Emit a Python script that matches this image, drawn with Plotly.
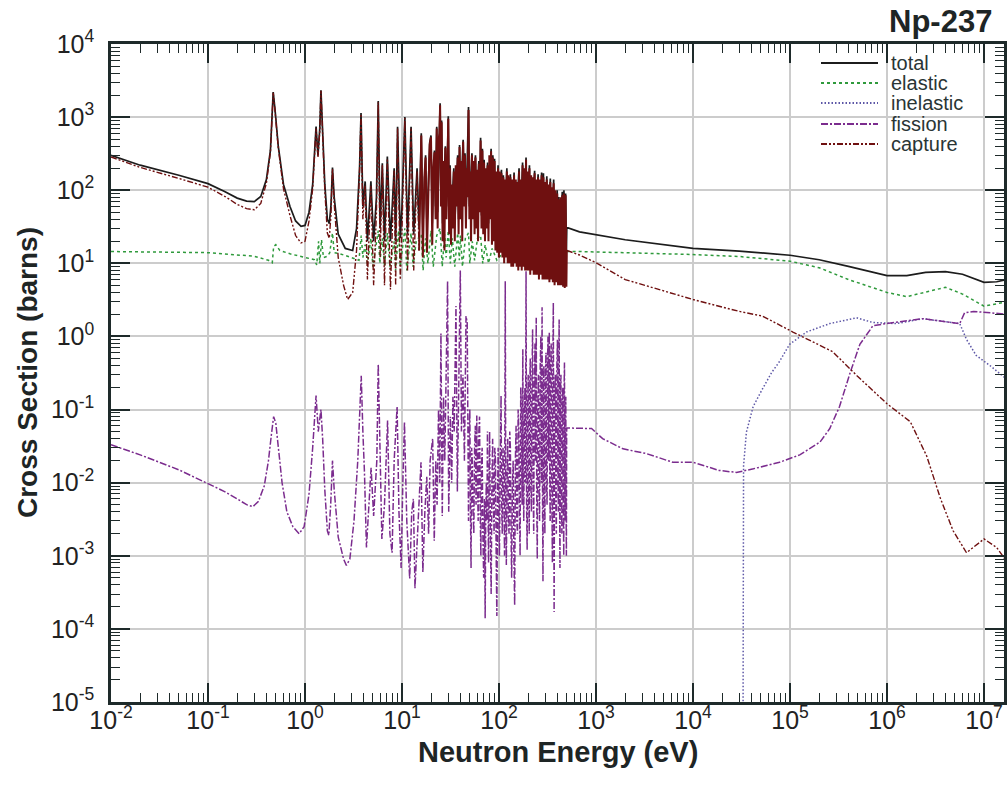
import plotly.graph_objects as go

# ---------------- data (energy eV, cross section barns) ----------------
total_low = [
    (0.01, 300), (0.02, 220), (0.05, 160), (0.1, 123), (0.15, 95), (0.2, 78), (0.25, 71),
    (0.3, 70), (0.35, 82), (0.4, 140), (0.44, 350), (0.465, 1200), (0.47, 2200), (0.49, 1300),
    (0.53, 400), (0.6, 120), (0.7, 60), (0.8, 38), (0.91, 32), (1.0, 33), (1.1, 50), (1.2, 120),
    (1.3, 740), (1.36, 300), (1.42, 700), (1.46, 2330), (1.52, 700), (1.6, 120), (1.7, 40),
    (1.78, 35), (1.85, 60), (1.92, 205), (2.0, 80), (2.2, 25), (2.6, 16), (3.1, 15), (3.4, 30),
    (3.65, 200), (3.78, 1140), (3.95, 60), (4.17, 132), (4.4, 20), (4.78, 132), (5.1, 20),
    (5.45, 80), (5.69, 1660), (5.95, 30), (6.27, 234), (6.6, 20), (7.06, 290), (7.6, 20),
    (8.3, 200), (8.6, 20), (9.0, 740), (9.6, 22), (10.0, 60), (10.7, 1000), (11.4, 25),
    (12.4, 740), (13.2, 25), (14.3, 200),
]
total_res = [
    (15.0, 30), (15.8, 600), (16.4, 30), (17.5, 300), (18.1, 30), (19.3, 450), (19.9, 560),
    (20.5, 35), (21.6, 350), (22.2, 60), (22.8, 740), (23.3, 50), (24.3, 650), (24.7, 1550),
    (25.2, 80), (25.6, 900), (26.2, 35), (28.0, 400), (28.7, 60), (30.0, 1030), (30.6, 45),
    (31.3, 220), (32.0, 35), (34.2, 200), (35.0, 35), (37.5, 300), (38.3, 40), (39.2, 415),
    (40.0, 60), (42.7, 490), (43.6, 80), (44.6, 320), (45.6, 45), (48.5, 1370), (49.5, 60),
    (52.6, 320), (53.7, 60), (57.2, 300), (58.4, 45), (62.0, 250), (63.3, 70), (64.6, 520),
    (66.0, 45), (67.4, 370), (68.8, 40), (70.2, 260), (71.7, 35), (76.3, 240), (77.9, 35),
    (82.9, 370), (84.6, 30), (86.4, 300), (88.2, 30), (90.0, 270), (91.9, 28), (97.8, 220),
    (99.8, 25), (106, 190), (108.5, 25), (110.8, 160), (113, 22), (120.5, 200), (123, 22),
    (131, 165), (134, 20), (143, 175), (146, 20), (161, 200), (164.5, 20), (175, 240),
    (178.5, 20), (190, 280), (194, 20), (206, 220), (210, 20), (233, 185), (238, 18),
    (253, 165), (258, 18), (275, 175), (281, 18), (287, 170), (293, 17), (311, 155), (317, 17),
    (338, 145), (345, 17), (366, 140), (374, 16), (398, 100), (406, 16), (414, 81), (422, 16),
    (449, 95), (458, 16), (467, 100), (476, 15), (486, 90), (495, 15), (500, 31),
]
total_high = [
    (500, 31), (676, 27), (1e3, 24.5), (2e3, 21), (1e4, 16), (3e4, 14.7), (1e5, 12.9),
    (2e5, 11.2), (4e5, 9.1), (1e6, 6.8), (1.6e6, 6.8), (2.5e6, 7.5), (4e6, 7.7), (6e6, 7.1),
    (1e7, 5.5), (1.35e7, 5.6), (1.8e7, 6.1),
]

elastic_pts = [
    (0.01, 14.5), (0.1, 14), (0.3, 12.5), (0.42, 11), (0.46, 10.2), (0.475, 17), (0.5, 18),
    (0.55, 15), (0.7, 13.5), (0.9, 12.4), (1.1, 11.5), (1.25, 11.2), (1.32, 9.5), (1.38, 20),
    (1.42, 10), (1.48, 21), (1.55, 12), (1.7, 12.5), (1.8, 14), (1.92, 26), (2.0, 14),
    (2.3, 13.5), (3.0, 12), (3.6, 11), (3.8, 24), (3.95, 12), (4.17, 18), (4.4, 10),
    (4.78, 22), (5.0, 9), (5.69, 28), (5.9, 10), (6.27, 22), (6.6, 9), (7.06, 26), (7.5, 9),
    (8.3, 20), (8.6, 8), (9.2, 28), (9.6, 9), (10.7, 30), (11.2, 8), (12.4, 26), (13, 9),
    (14, 20), (15.8, 25), (16.5, 8), (17.5, 22), (18.5, 10), (19.9, 28), (21, 9), (22.8, 24),
    (24.7, 30), (26, 9), (27.5, 25), (28.5, 12), (30, 28), (31.5, 10), (33, 22), (35, 9),
    (37.5, 26), (39, 11), (40, 24), (42, 9), (45, 22), (48.5, 26), (50, 10), (53, 20),
    (56, 11), (60, 22), (64.6, 24), (68, 10), (72, 18), (78, 10), (85, 16), (95, 11),
    (110, 14), (150, 13), (250, 12), (400, 12), (500, 14.5), (676, 14.5), (1e4, 13.2),
    (3e4, 12.4), (1e5, 10.7), (2e5, 8.7), (4e5, 6.0), (1e6, 4.0), (1.6e6, 3.5), (2.5e6, 4.0),
    (4e6, 4.7), (6e6, 3.8), (1e7, 2.6), (1.8e7, 3.0),
]

inelastic_pts = [
    (3.26e4, 1e-7), (3.28e4, 0.005), (3.32e4, 0.017), (3.55e4, 0.049), (4.17e4, 0.11),
    (5.07e4, 0.18), (6.46e4, 0.32), (7.76e4, 0.45), (9.9e4, 0.78), (1.48e5, 1.15),
    (2.57e5, 1.5), (4.84e5, 1.8), (7.16e5, 1.55), (1.26e6, 1.5), (2.34e6, 1.75),
    (5.62e6, 1.5), (6.6e6, 0.91), (8.3e6, 0.55), (1.15e7, 0.40), (1.78e7, 0.25),
]

fission_low = [
    (0.01, 0.033), (0.02, 0.024), (0.05, 0.015), (0.1, 0.0098), (0.15, 0.0075), (0.2, 0.006),
    (0.25, 0.0050), (0.29, 0.0047), (0.33, 0.0055), (0.38, 0.009), (0.42, 0.02), (0.45, 0.045),
    (0.465, 0.075), (0.475, 0.08), (0.5, 0.065), (0.53, 0.03), (0.58, 0.01), (0.65, 0.004),
    (0.75, 0.0025), (0.87, 0.002), (0.98, 0.0025), (1.1, 0.007), (1.2, 0.03), (1.3, 0.156),
    (1.37, 0.05), (1.43, 0.08), (1.46, 0.10), (1.52, 0.04), (1.6, 0.008), (1.7, 0.0022),
    (1.76, 0.0019), (1.84, 0.005), (1.92, 0.02), (2.0, 0.008), (2.2, 0.0018), (2.5, 0.0009),
    (2.67, 0.00074), (2.9, 0.0009), (3.2, 0.003), (3.5, 0.02), (3.7, 0.12), (3.8, 0.29),
    (3.95, 0.05), (4.1, 0.014), (4.3, 0.0013), (4.5, 0.004), (4.8, 0.016), (5.1, 0.0035),
    (5.5, 0.02), (5.69, 0.42), (5.9, 0.05), (6.2, 0.0017), (6.6, 0.005), (7.1, 0.071),
    (7.5, 0.002), (7.9, 0.0011), (8.3, 0.02), (8.9, 0.11), (9.3, 0.004), (9.8, 0.00068),
    (10.2, 0.01), (10.6, 0.068), (11.2, 0.003), (12.0, 0.00049), (12.6, 0.004),
]
fission_res = [
    (13.1, 0.006), (13.6, 0.00036), (14.5, 0.003), (15.2, 0.008), (15.7, 0.019), (16.4, 0.0006),
    (17.2, 0.004), (18, 0.012), (18.8, 0.002), (19.5, 0.02), (20.7, 0.04), (21.5, 0.0016),
    (22.3, 0.02), (23, 0.005), (23.8, 0.1), (24.5, 0.01), (25.2, 1.1), (26, 0.0035),
    (26.8, 0.15), (27.6, 0.02), (28.5, 0.3), (29.5, 5.7), (30.3, 0.004), (31.5, 0.08),
    (32.5, 0.01), (33.5, 0.15), (34.5, 0.05), (36, 2.6), (37.2, 0.0076), (38.5, 0.2),
    (39.9, 8.0), (41, 0.05), (42.5, 0.3), (44, 0.02), (45.7, 1.9), (47, 1.55), (48.5, 0.003),
    (49.3, 0.05), (50, 0.1), (50.8, 0.004), (51.5, 0.00068), (52.2, 0.03), (53, 0.02),
    (54, 0.004), (55, 0.002), (56, 0.03), (57, 0.06), (58, 0.005), (59, 0.083), (60, 0.01),
    (61, 0.003), (62, 0.05), (63, 0.08), (64, 0.004), (65, 0.001), (66, 0.02), (67, 0.03),
    (68.2, 0.002), (69.5, 0.0005), (70.8, 0.006), (72, 0.00014), (73, 0.004), (74, 0.01),
    (75, 0.003), (76, 0.05), (77, 0.006), (78, 0.0008), (79, 0.01), (80, 0.05), (81.5, 0.002),
    (83, 0.0003), (84.5, 0.01), (86, 0.04), (87.5, 0.005), (89, 0.002), (90.5, 0.03),
    (92, 0.02), (93.5, 0.001), (95, 0.00015), (96.5, 0.005), (98, 0.03), (99.5, 0.004),
    (101, 0.001), (103, 0.02), (105, 0.155), (106.5, 0.005), (108, 0.002), (110, 0.03),
    (112, 0.01), (114, 0.001), (116, 5.7), (117.5, 0.004), (119, 0.00075), (121, 0.01),
    (123, 0.04), (125, 0.003), (127, 0.002), (129, 0.05), (131, 0.03), (133, 0.002),
    (135, 0.0005), (137.5, 0.01), (140, 0.02), (142.5, 0.001), (145, 0.00021), (147.5, 0.02),
    (150, 0.06), (152.5, 0.003), (155, 0.002), (157.5, 0.1), (160, 0.05), (162.5, 0.004),
    (165, 0.001), (167.5, 0.2), (170, 0.1), (173, 0.005), (176, 0.67), (178, 0.01),
    (180, 0.003), (182.5, 0.08), (185, 0.2), (187.5, 0.01), (190, 7.8), (192.5, 0.005),
    (195, 0.0012), (197.5, 0.1), (200, 0.3), (202.5, 0.006), (205, 0.002), (207.5, 0.2),
    (210, 0.5), (213, 0.01), (216, 0.004), (219, 0.3), (222, 1.25), (225, 0.008), (228, 0.002),
    (231, 0.2), (235, 0.8), (238, 0.02), (242, 1.8), (245, 0.005), (248, 0.0009), (251, 0.1),
    (255, 0.3), (258, 0.01), (262, 0.003), (266, 0.4), (270, 1.0), (274, 0.01), (278, 2.5),
    (281, 0.006), (284, 0.00045), (287, 0.2), (290, 0.4), (293.5, 0.008), (297, 0.002),
    (301, 0.3), (305, 0.6), (309, 0.01), (313, 0.005), (316.5, 0.5), (320, 1.0), (325, 0.02),
    (330, 1.15), (333.5, 0.01), (337, 0.003), (341, 0.4), (345, 0.8), (350, 0.01),
    (355, 0.0008), (359, 0.5), (363, 2.9), (366.5, 0.01), (370, 0.00017), (375, 0.1),
    (380, 0.3), (385, 0.006), (390, 0.002), (395, 0.4), (400, 0.9), (405, 0.01), (410, 0.004),
    (413.5, 0.6), (417, 1.7), (421, 0.008), (425, 0.00068), (430, 0.2), (435, 0.3),
    (440, 0.006), (445, 0.002), (450, 0.1), (455, 0.2), (460, 0.005), (465, 0.001),
    (469, 0.2), (473, 0.44), (476.5, 0.01), (480, 0.003), (484, 0.08), (488, 0.15),
    (491.5, 0.004), (495, 0.001), (498, 0.05), (500, 0.056),
]
fission_high = [
    (500, 0.056), (900, 0.055), (1170, 0.040), (1900, 0.029), (3300, 0.025), (6200, 0.019),
    (1e4, 0.019), (1.86e4, 0.0147), (2.8e4, 0.0138), (4.2e4, 0.0155), (7.8e4, 0.019),
    (1.26e5, 0.024), (2.04e5, 0.036), (2.57e5, 0.055), (3.24e5, 0.11), (4.17e5, 0.32),
    (5.25e5, 0.78), (7.16e5, 1.4), (9.8e5, 1.5), (2.34e6, 1.75), (5.62e6, 1.5), (6.3e6, 2.1),
    (7.8e6, 2.2), (1.2e7, 2.1), (1.8e7, 2.0),
]

capture_low = [
    (0.01, 285), (0.02, 205), (0.05, 145), (0.1, 110), (0.15, 82), (0.2, 64), (0.25, 56),
    (0.3, 54), (0.35, 66), (0.4, 125), (0.44, 330), (0.465, 1150), (0.47, 2150), (0.49, 1250),
    (0.53, 380), (0.6, 105), (0.7, 45), (0.8, 24), (0.91, 19), (1.0, 20), (1.1, 38),
    (1.2, 105), (1.3, 700), (1.36, 280), (1.42, 650), (1.46, 2300), (1.52, 650), (1.6, 100),
    (1.7, 26), (1.78, 22), (1.85, 45), (1.92, 195), (2.0, 65), (2.2, 12), (2.5, 5),
    (2.75, 3.2), (3.1, 4), (3.4, 15), (3.65, 185), (3.78, 1100), (3.95, 40), (4.17, 115),
    (4.4, 6), (4.78, 115), (5.1, 5), (5.45, 50), (5.69, 1600), (5.95, 12), (6.27, 220),
    (6.6, 5), (7.06, 270), (7.6, 4.4), (8.3, 185), (8.6, 5), (9.0, 700), (9.6, 6), (10.0, 30),
    (10.7, 970), (11.4, 8), (12.4, 700), (13.2, 8), (14.3, 180),
]
capture_res = [
    (15.0, 15), (15.8, 560), (16.4, 12), (17.0, 150), (17.5, 280), (18.1, 14), (18.8, 120),
    (19.3, 420), (19.9, 530), (20.5, 18), (21.0, 200), (21.6, 330), (22.2, 40), (22.8, 700),
    (23.3, 30), (23.8, 480), (24.3, 600), (24.7, 1450), (25.2, 60), (25.6, 850), (26.2, 20),
    (26.8, 250), (27.4, 15), (28.0, 380), (28.7, 40), (29.4, 300), (30.0, 950), (30.6, 25),
    (31.3, 200), (32.0, 18), (32.7, 120), (33.4, 30), (34.2, 180), (35.0, 20), (35.8, 220),
    (36.6, 60), (37.5, 280), (38.3, 25), (39.2, 390), (40.0, 40), (40.9, 250), (41.8, 20),
    (42.7, 460), (43.6, 60), (44.6, 300), (45.6, 30), (46.6, 200), (47.6, 80), (48.5, 1250),
    (49.5, 40), (50.5, 180), (51.5, 20), (52.6, 300), (53.7, 40), (54.8, 250), (56.0, 25),
    (57.2, 280), (58.4, 30), (59.6, 190), (60.8, 20), (62.0, 230), (63.3, 50), (64.6, 480),
    (66.0, 30), (67.4, 350), (68.8, 25), (70.2, 240), (71.7, 20), (73.2, 200), (74.7, 30),
    (76.3, 220), (77.9, 20), (79.5, 300), (81.2, 40), (82.9, 340), (84.6, 18), (86.4, 280),
    (88.2, 20), (90.0, 250), (91.9, 15), (93.8, 180), (95.8, 14), (97.8, 200), (99.8, 12),
    (102, 180), (104, 14), (106, 170), (108.5, 12), (110.8, 150), (113, 10), (115.5, 140),
    (118, 12), (120.5, 180), (123, 10), (125.5, 160), (128, 10), (131, 150), (134, 9),
    (137, 140), (140, 9), (143, 160), (146, 10), (149, 140), (152, 9), (155, 130), (158, 8),
    (161, 180), (164.5, 9), (168, 140), (171.5, 8), (175, 220), (178.5, 9), (182, 200),
    (186, 8), (190, 260), (194, 8), (198, 180), (202, 8), (206, 200), (210, 7), (214.5, 160),
    (219, 8), (223.5, 150), (228, 7), (233, 170), (238, 7), (243, 140), (248, 7), (253, 150),
    (258, 6), (263.5, 140), (269, 7), (275, 160), (281, 6), (287, 150), (293, 6), (299, 130),
    (305, 6), (311, 140), (317, 6), (324, 120), (331, 5.5), (338, 130), (345, 6), (352, 110),
    (359, 5.5), (366, 125), (374, 5), (382, 100), (390, 5.5), (398, 90), (406, 5), (414, 75),
    (422, 5), (431, 80), (440, 5), (449, 85), (458, 4.8), (467, 90), (476, 4.6), (486, 85),
    (495, 4.8), (500, 15),
]
capture_high = [
    (500, 15), (676, 13), (1e3, 10.2), (2e3, 6.0), (1e4, 3.2), (3e4, 2.2), (5.2e4, 1.9),
    (1.07e5, 1.15), (2.75e5, 0.62), (4.9e5, 0.29), (1e6, 0.12), (1.74e6, 0.068),
    (2.57e6, 0.023), (3.55e6, 0.0061), (4.8e6, 0.0022), (6.6e6, 0.0011), (1e7, 0.0017),
    (1.35e7, 0.0013), (1.8e7, 0.00076),
]

series_names = ["total", "elastic", "inelastic", "fission", "capture"]
decades = [-2, -1, 0, 1, 2, 3, 4, 5, 6, 7]
ydecades = [-5, -4, -3, -2, -1, 0, 1, 2, 3, 4]

# ---------------- styles ----------------
C_TOTAL = "#1c1c1c"
C_EL = "#2f9a3c"
C_INEL = "#5c56a6"
C_FIS = "#7b2c8e"
C_CAP = "#6f1010"
DASH_EL = "3px,3px"
DASH_INEL = "1.5px,2px"
DASH_FIS = "7px,2px,2px,2px"
DASH_CAP = "6px,2px,2px,2px,2px,2px"
FONT = "Liberation Sans, Arial, Helvetica, sans-serif"

W, H = 1008, 792
L, R, T, B = 111, 4, 44, 90
PW, PH = W - L - R, H - T - B


def px_x(p):
    return (p - L) / PW


def px_y(p):
    return 1 - (p - T) / PH


def xs(p):
    return [a for a, _ in p]


def ys(p):
    return [b for _, b in p]


fig = go.Figure()

total_all = total_low + total_res + total_high[1:]
fig.add_trace(go.Scatter(x=xs(total_all), y=ys(total_all), mode="lines", name="total",
                         line=dict(color=C_TOTAL, width=1.7)))
fig.add_trace(go.Scatter(x=xs(elastic_pts), y=ys(elastic_pts), mode="lines", name="elastic",
                         line=dict(color=C_EL, width=1.5, dash=DASH_EL)))
fig.add_trace(go.Scatter(x=xs(inelastic_pts), y=ys(inelastic_pts), mode="lines", name="inelastic",
                         line=dict(color=C_INEL, width=1.5, dash=DASH_INEL)))
fission_all = fission_low + fission_res + fission_high[1:]
fig.add_trace(go.Scatter(x=xs(fission_all), y=ys(fission_all), mode="lines", name="fission",
                         line=dict(color=C_FIS, width=1.5, dash=DASH_FIS)))
capture_lo = capture_low + capture_res[:1]
fig.add_trace(go.Scatter(x=xs(capture_lo), y=ys(capture_lo), mode="lines", name="capture",
                         line=dict(color=C_CAP, width=1.4, dash=DASH_CAP)))
fig.add_trace(go.Scatter(x=xs(capture_res), y=ys(capture_res), mode="lines", name="capture",
                         line=dict(color=C_CAP, width=2.0)))
fig.add_trace(go.Scatter(x=xs(capture_high), y=ys(capture_high), mode="lines", name="capture",
                         line=dict(color=C_CAP, width=1.4, dash=DASH_CAP)))

axis_common = dict(
    type="log", showline=True, linewidth=2.5, linecolor="#1e2a2a", mirror="allticks",
    ticks="inside", ticklen=19, tickwidth=2, tickcolor="#1e2a2a",
    showgrid=True, gridcolor="#cccccc", gridwidth=1.5, zeroline=False, automargin=False,
    tickfont=dict(family=FONT, size=25, color="#222"),
    minor=dict(ticks="inside", ticklen=9, tickwidth=1.3, tickcolor="#1e2a2a", dtick="D1",
               showgrid=False),
)
fig.update_xaxes(**axis_common, range=[-2, 7.206], tickmode="array",
                 tickvals=[10 ** d for d in decades],
                 ticktext=[f"10<sup>{d}</sup>" for d in decades], ticklabelstandoff=-6)
fig.update_yaxes(**axis_common, range=[-5, 4], tickmode="array",
                 tickvals=[10 ** d for d in ydecades],
                 ticktext=[f"10<sup>{d}</sup>" for d in ydecades], ticklabelstandoff=9)

# legend drawn as line samples + labels
leg_rows = [63, 83, 103, 124, 144]
leg_styles = [(C_TOTAL, "solid", 2.2), (C_EL, DASH_EL, 1.8), (C_INEL, DASH_INEL, 1.8),
              (C_FIS, DASH_FIS, 1.8), (C_CAP, DASH_CAP, 1.8)]
shapes = [dict(type="rect", xref="paper", yref="paper", x0=px_x(812), x1=px_x(988),
               y0=px_y(154), y1=px_y(51), fillcolor="white", line=dict(width=0),
               layer="between")]
annotations = []
for name, ry, (col, dsh, wd) in zip(series_names, leg_rows, leg_styles):
    shapes.append(dict(type="line", xref="paper", yref="paper", x0=px_x(821), x1=px_x(878),
                       y0=px_y(ry), y1=px_y(ry), line=dict(color=col, width=wd, dash=dsh),
                       layer="above"))
    annotations.append(dict(text=name, xref="paper", yref="paper", x=px_x(889), y=px_y(ry),
                            xanchor="left", yanchor="middle", showarrow=False,
                            font=dict(family=FONT, size=20, color="#2a3535")))

annotations += [
    dict(text="<b>Np-237</b>", xref="paper", yref="paper", x=1, y=1, xanchor="right",
         yanchor="bottom", xshift=-10, yshift=3, showarrow=False,
         font=dict(family=FONT, size=31, color="#1e2525")),
    dict(text="<b>Neutron Energy (eV)</b>", xref="paper", yref="paper", x=0.5, y=0,
         xanchor="center", yanchor="middle", yshift=-50, showarrow=False,
         font=dict(family=FONT, size=29, color="#1e2525")),
    dict(text="<b>Cross Section (barns)</b>", xref="paper", yref="paper", x=0, y=0.5,
         xanchor="center", yanchor="middle", xshift=-84, textangle=-90, showarrow=False,
         font=dict(family=FONT, size=28, color="#1e2525")),
]

fig.update_layout(
    width=W, height=H,
    margin=dict(l=L, r=R, t=T, b=B),
    paper_bgcolor="white", plot_bgcolor="white",
    showlegend=False,
    shapes=shapes,
    annotations=annotations,
)

# remove the default 8px page margin so the figure sits at the window's top-left corner
fig.write_html("out.html", config={"displayModeBar": False},
               post_script="document.body.style.margin='0px';")
